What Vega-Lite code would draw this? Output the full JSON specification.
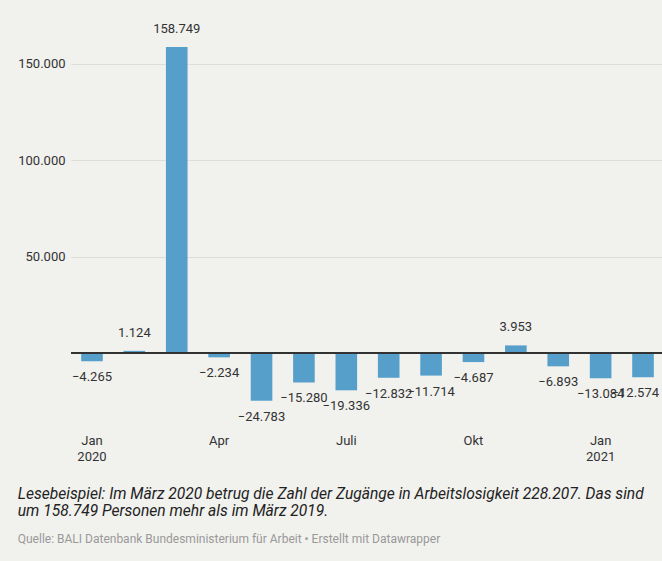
{
  "$schema": "https://vega.github.io/schema/vega-lite/v6.json",
  "autosize": {"type": "none"},
  "padding": {"left": 71, "top": 35, "right": 0, "bottom": 140},
  "width": 593,
  "height": 385.5,
  "background": "#f1f1ee",
  "config": {
    "view": {"stroke": null},
    "font": "Roboto",
    "locale": {"number": {"decimal": ",", "thousands": ".", "grouping": [3], "currency": ["", " €"], "minus": "\u2212"}}
  },
  "title": {
    "text": ["Lesebeispiel: Im März 2020 betrug die Zahl der Zugänge in Arbeitslosigkeit 228.207. Das sind", "um 158.749 Personen mehr als im März 2019."],
    "subtitle": "Quelle: BALI Datenbank Bundesministerium für Arbeit • Erstellt mit Datawrapper",
    "orient": "bottom",
    "anchor": "start",
    "frame": "bounds",
    "font": "Roboto",
    "fontSize": 15.6,
    "fontStyle": "italic",
    "fontWeight": "normal",
    "color": "#222222",
    "lineHeight": 17,
    "offset": 23,
    "subtitleFont": "Roboto",
    "subtitleFontSize": 12,
    "subtitleColor": "#999999",
    "subtitlePadding": 15
  },
  "data": {
    "values": [
      {"month": "2020-01", "value": -4265},
      {"month": "2020-02", "value": 1124},
      {"month": "2020-03", "value": 158749},
      {"month": "2020-04", "value": -2234},
      {"month": "2020-05", "value": -24783},
      {"month": "2020-06", "value": -15280},
      {"month": "2020-07", "value": -19336},
      {"month": "2020-08", "value": -12832},
      {"month": "2020-09", "value": -11714},
      {"month": "2020-10", "value": -4687},
      {"month": "2020-11", "value": 3953},
      {"month": "2020-12", "value": -6893},
      {"month": "2021-01", "value": -13084},
      {"month": "2021-02", "value": -12574}
    ]
  },
  "encoding": {
    "x": {
      "field": "month",
      "type": "ordinal",
      "scale": {"paddingInner": 0.49, "paddingOuter": 0.24},
      "axis": {
        "title": null,
        "domain": false,
        "ticks": false,
        "grid": false,
        "labelAngle": 0,
        "labelFont": "Roboto",
        "labelFontSize": 13,
        "labelColor": "#333333",
        "labelLineHeight": 16,
        "labelPadding": 14,
        "labelBaseline": "top",
        "labelExpr": "datum.value == '2020-01' ? ['Jan', '2020'] : datum.value == '2020-04' ? 'Apr' : datum.value == '2020-07' ? 'Juli' : datum.value == '2020-10' ? 'Okt' : datum.value == '2021-01' ? ['Jan', '2021'] : ''"
      }
    },
    "y": {
      "field": "value",
      "type": "quantitative",
      "scale": {"domain": [-35000, 165000], "nice": false},
      "axis": {
        "title": null,
        "domain": false,
        "ticks": false,
        "values": [50000, 100000, 150000],
        "format": ",d",
        "labelFont": "Roboto",
        "labelFontSize": 13,
        "labelColor": "#333333",
        "labelPadding": 6,
        "gridColor": "#dddddb",
        "gridWidth": 1
      }
    }
  },
  "layer": [
    {"mark": {"type": "bar", "color": "#579fcb"}},
    {
      "transform": [{"filter": "datum.value >= 0"}],
      "mark": {"type": "text", "baseline": "bottom", "dy": -11, "fontSize": 13, "color": "#333333", "font": "Roboto"},
      "encoding": {"text": {"field": "value", "type": "quantitative", "format": ",d"}}
    },
    {
      "transform": [{"filter": "datum.value < 0 && datum.month != '2021-02'"}],
      "mark": {"type": "text", "baseline": "top", "dy": 10, "fontSize": 13, "color": "#333333", "font": "Roboto"},
      "encoding": {"text": {"field": "value", "type": "quantitative", "format": ",d"}}
    },
    {
      "transform": [{"filter": "datum.month == '2021-02'"}],
      "mark": {"type": "text", "baseline": "top", "align": "right", "dx": 16, "dy": 10, "fontSize": 13, "color": "#333333", "font": "Roboto"},
      "encoding": {"text": {"field": "value", "type": "quantitative", "format": ",d"}}
    },
    {
      "mark": {"type": "rule", "color": "#333333", "strokeWidth": 1.3},
      "encoding": {"y": {"datum": 0}, "x": {"value": 0}, "x2": {"value": 593}}
    }
  ]
}
